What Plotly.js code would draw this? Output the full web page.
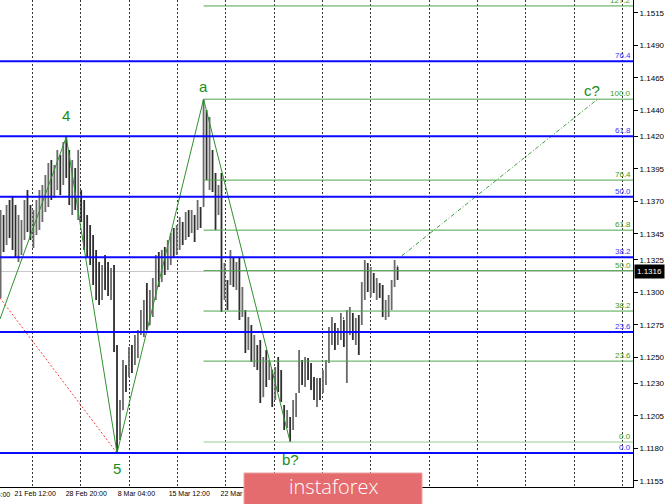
<!DOCTYPE html>
<html><head><meta charset="utf-8">
<script src="https://cdn.plot.ly/plotly-3.0.1.min.js"></script>
<style>html,body{margin:0;padding:0;background:#fff;}#chart{width:665px;height:504px;}</style>
</head><body><div id="chart"></div>
<script>
// ---- price bars (EURUSD) ----
const barHigh = [1.13633,1.13594,1.13671,1.13710,1.13733,1.13671,1.13594,1.13556,1.13710,1.13786,
1.13671,1.13633,1.13710,1.13786,1.13825,1.13902,1.13994,1.14017,1.13979,1.14094,
1.14056,1.14156,1.14194,1.14094,1.14017,1.13956,1.14094,1.13786,1.13710,1.13594,
1.13517,1.13440,1.13325,1.13233,1.13210,1.13286,1.13233,1.13186,1.13210,1.12594,
1.12171,1.12479,1.12440,1.12579,1.12594,1.12671,1.12710,1.12863,1.12940,1.13071,
1.13017,1.13110,1.13286,1.13310,1.13325,1.13348,1.13402,1.13456,1.13494,1.13517,
1.13579,1.13540,1.13617,1.13633,1.13633,1.13594,1.13710,1.13656,1.14485,1.14402,
1.14348,1.14094,1.13917,1.13825,1.13917,1.13225,1.13094,1.13325,1.13271,1.13233,
1.13271,1.13040,1.12863,1.12810,1.12748,1.12671,1.12594,1.12633,1.12502,1.12556,
1.12479,1.12402,1.12425,1.12502,1.12402,1.12133,1.12094,1.12040,1.12171,1.12225,
1.12556,1.12479,1.12502,1.12494,1.12456,1.12348,1.12340,1.12340,1.12402,1.12479,
1.12733,1.12810,1.12763,1.12725,1.12840,1.12786,1.12863,1.12886,1.12840,1.12802,
1.12825,1.13079,1.13248,1.13225,1.13194,1.13148,1.13110,1.13071,1.13056,1.12940,
1.12979,1.13094,1.13248,1.13194];
const barLow = [1.12956,1.13310,1.13363,1.13417,1.13325,1.13263,1.13233,1.13286,1.13402,1.13463,
1.13402,1.13340,1.13440,1.13479,1.13540,1.13617,1.13656,1.13710,1.13725,1.13786,
1.13748,1.13825,1.13879,1.13671,1.13594,1.13633,1.13556,1.13540,1.13325,1.13263,
1.13210,1.13056,1.12940,1.12902,1.12940,1.13017,1.12971,1.12940,1.12540,1.11763,
1.11863,1.12094,1.12233,1.12348,1.12379,1.12440,1.12494,1.12671,1.12656,1.12710,
1.12748,1.12810,1.12940,1.13040,1.13079,1.13133,1.13171,1.13210,1.13271,1.13286,
1.13325,1.13363,1.13402,1.13425,1.13456,1.13386,1.13479,1.13494,1.13656,1.13863,
1.13786,1.13771,1.13479,1.13594,1.12848,1.12940,1.12863,1.13056,1.13040,1.13017,
1.12786,1.12810,1.12533,1.12556,1.12463,1.12425,1.12402,1.12148,1.12194,1.12271,
1.12325,1.12117,1.12171,1.12233,1.12156,1.11940,1.11956,1.11848,1.11940,1.12040,
1.12225,1.12286,1.12271,1.12325,1.12248,1.12171,1.12117,1.12171,1.12225,1.12286,
1.12456,1.12594,1.12556,1.12594,1.12633,1.12579,1.12302,1.12671,1.12633,1.12594,
1.12517,1.12748,1.12940,1.13002,1.12963,1.12994,1.12940,1.12956,1.12810,1.12786,
1.12810,1.12863,1.13040,1.13094];
const barOpen = [1.1300,1.1350,1.1340,1.1360,1.1350,1.1340,1.1330,1.1335,1.1350,1.1365,
1.1355,1.1345,1.1355,1.1365,1.1372,1.1378,1.1385,1.1395,1.1388,1.1395,
1.1405,1.1398,1.1410,1.1395,1.1380,1.1390,1.1375,1.1372,1.1360,1.1340,
1.1330,1.1325,1.1310,1.1300,1.1295,1.1310,1.1305,1.1300,1.1310,1.1256,
1.1190,1.1210,1.1240,1.1236,1.1255,1.1250,1.1262,1.1268,1.1282,1.1290,
1.1275,1.1295,1.1308,1.1325,1.1310,1.1330,1.1320,1.1338,1.1342,1.1335,
1.1350,1.1353,1.1345,1.1360,1.1355,1.1358,1.1350,1.1364,1.1368,1.1430,
1.1395,1.1408,1.1380,1.1365,1.1375,1.1296,1.1305,1.1308,1.1325,1.1310,
1.1320,1.1290,1.1285,1.1258,1.1270,1.1250,1.1258,1.1245,1.1220,1.1240,
1.1234,1.1240,1.1219,1.1235,1.1225,1.1212,1.1198,1.1203,1.1196,1.1212,
1.1224,1.1246,1.1235,1.1245,1.1240,1.1228,1.1220,1.1230,1.1224,1.1238,
1.1247,1.1270,1.1275,1.1262,1.1270,1.1280,1.1265,1.1275,1.1283,1.1270,
1.1278,1.1276,1.1300,1.1318,1.1305,1.1312,1.1302,1.1306,1.1298,1.1285,
1.1292,1.1290,1.1305,1.1320];
const barClose = [1.1350,1.1340,1.1360,1.1350,1.1340,1.1330,1.1335,1.1350,1.1365,1.1355,
1.1345,1.1355,1.1365,1.1372,1.1378,1.1385,1.1395,1.1388,1.1395,1.1405,
1.1398,1.1410,1.1395,1.1380,1.1390,1.1375,1.1385,1.1360,1.1340,1.1330,
1.1325,1.1310,1.1300,1.1295,1.1310,1.1305,1.1300,1.1310,1.1256,1.1190,
1.1210,1.1240,1.1230,1.1255,1.1250,1.1262,1.1268,1.1282,1.1290,1.1275,
1.1295,1.1308,1.1325,1.1310,1.1330,1.1320,1.1338,1.1342,1.1335,1.1350,
1.1355,1.1345,1.1360,1.1355,1.1362,1.1345,1.1368,1.1352,1.1430,1.1395,
1.1420,1.1380,1.1350,1.1375,1.1290,1.1315,1.1290,1.1330,1.1310,1.1320,
1.1285,1.1295,1.1258,1.1270,1.1250,1.1260,1.1245,1.1220,1.1240,1.1230,
1.1240,1.1215,1.1235,1.1225,1.1218,1.1198,1.1205,1.1188,1.1212,1.1220,
1.1250,1.1235,1.1245,1.1240,1.1228,1.1220,1.1230,1.1222,1.1238,1.1245,
1.1270,1.1275,1.1262,1.1270,1.1280,1.1265,1.1275,1.1285,1.1270,1.1278,
1.1260,1.1300,1.1318,1.1305,1.1312,1.1302,1.1308,1.1298,1.1285,1.1292,
1.1295,1.1305,1.1320,1.1316];

// ---- wave markup ----
const waveX = [-0.2, 22, 39, 68, 97];
const waveY = [1.12794, 1.14194, 1.11763, 1.14485, 1.11848];
const waveLabels = ['', '4', '5', 'a', 'b?'];
const trendX = [-0.2, 39];
const trendY = [1.12956, 1.11763];
const projX = [134.4, 200];
const projY = [1.1328, 1.14485];
const projLabel = 'c?';

// ---- fibonacci grids ----
const blueFibLow = 1.11763, blueFibHigh = 1.15707;
const blueRatios = [0, 23.6, 38.2, 50, 61.8, 76.4];
const greenFibLow = 1.11848, greenFibHigh = 1.14485, greenFibStart = 68;
const greenRatios = [0, 23.6, 38.2, 50, 61.8, 76.4, 100, 127.2];
const bidPrice = 1.1316;

// ---- axes ----
const yTicks = [1.1515,1.1490,1.1465,1.1440,1.1420,1.1395,1.1370,1.1345,1.1325,1.1300,1.1275,1.1250,1.1230,1.1205,1.1180,1.1155];
const timeLabels = ['21 Feb 12:00','28 Feb 20:00','8 Mar 04:00','15 Mar 12:00','22 Mar 20:00'];
const timeLabelPos = [11.6, 28.7, 45.5, 63.2, 80.6];
const cutTimeLabel = '14 Feb 04:00';
const gridPos = [10.62, 26.84, 43.02, 59.23, 75.41, 91.63, 107.81, 124.02, 143.52, 159.73, 175.91, 192.1, 208.3];
const xRange = [-0.2, 211.86];
const yRange = [1.11502, 1.15248];

const barIndex = barHigh.map((_, i) => i);
const FONT = 'Liberation Sans, Arial, sans-serif';

const traces = [
  {type:'ohlc', x: barIndex, open: barOpen, high: barHigh, low: barLow, close: barClose,
   increasing:{line:{color:'#6a6a6a', width:1.8}}, decreasing:{line:{color:'#2e2e2e', width:1.8}},
   tickwidth:0.25, hoverinfo:'skip', showlegend:false},
  {type:'scatter', mode:'lines', x: trendX, y: trendY, line:{color:'#ff3b3b', width:1, dash:'2px,2px'}, hoverinfo:'skip', showlegend:false},
  {type:'scatter', mode:'lines', x: waveX, y: waveY, line:{color:'#2f912f', width:1}, hoverinfo:'skip', showlegend:false},
  {type:'scatter', mode:'lines', x: projX, y: projY, line:{color:'#3d9d3d', width:1, dash:'4px,2px,1px,2px'}, hoverinfo:'skip', showlegend:false}
];

const shapes = [];
const annotations = [];
shapes.push({type:'line', xref:'paper', x0:0, x1:1, yref:'y', y0:bidPrice, y1:bidPrice, line:{color:'#c6c6c6', width:1}, layer:'below'});
blueRatios.forEach(r => {
  const v = blueFibLow + (blueFibHigh - blueFibLow) * r / 100;
  shapes.push({type:'line', xref:'paper', x0:0, x1:1, yref:'y', y0:v, y1:v, line:{color:'#0a0aff', width:2}, layer:'above'});
  annotations.push({xref:'paper', x:1, xanchor:'right', xshift:-1, yref:'y', y:v, yanchor:'bottom', yshift:0, text:r.toFixed(1), showarrow:false, font:{family:FONT, size:8, color:'#3535ff'}, borderpad:0});
});
greenRatios.forEach(r => {
  const v = greenFibLow + (greenFibHigh - greenFibLow) * r / 100;
  shapes.push({type:'line', xref:'x', x0:greenFibStart, x1:xRange[1], yref:'y', y0:v, y1:v, line:{color: r === 0 ? '#96cc96' : '#4da64d', width:1}, layer:'above'});
  annotations.push({xref:'paper', x:1, xanchor:'right', xshift:-1, yref:'y', y:v, yanchor:'bottom', yshift:0, text:r.toFixed(1), showarrow:false, font:{family:FONT, size:8, color:'#3f9a22'}, borderpad:0});
});

const labelShift = {'4':22, '5':-15, 'a':13, 'b?':-17};
waveX.forEach((x, i) => {
  if (!waveLabels[i]) return;
  annotations.push({x:x, y:waveY[i], xref:'x', yref:'y', text:waveLabels[i], showarrow:false, yshift:labelShift[waveLabels[i]], font:{family:FONT, size:15, color:'#1a8c1a'}});
});
annotations.push({x:projX[1], y:projY[1], xref:'x', yref:'y', text:projLabel, showarrow:false, xshift:-6, yshift:9, font:{family:FONT, size:15, color:'#1a8c1a'}});

// current price tag
annotations.push({xref:'paper', x:1, xanchor:'left', xshift:1, yref:'y', y:bidPrice, text:bidPrice.toFixed(4), showarrow:false, bgcolor:'#000', borderpad:2, font:{family:FONT, size:8, color:'#fff'}});
// cut-off first time label (only its tail shows at the left edge)
annotations.push({xref:'paper', x:11/633, xanchor:'right', yref:'paper', y:-7/487, yanchor:'middle', text:cutTimeLabel, showarrow:false, borderpad:0, font:{family:FONT, size:7, color:'#000'}});

// watermark banner
shapes.push({type:'rect', xref:'paper', yref:'paper', x0:244/633, x1:422/633, y0:-0.05, y1:14/487, fillcolor:'#e46c6e', line:{color:'#eea2a2', width:1}, layer:'above'});
annotations.push({xref:'paper', yref:'paper', x:333/633, y:1/487, xanchor:'center', yanchor:'middle', text:'instaforex', showarrow:false, font:{family:'Open Sans, sans-serif', size:20, color:'#ffffff', weight:300}});

const layout = {
  width:665, height:504,
  margin:{l:0, r:32, t:0, b:17},
  paper_bgcolor:'#fff', plot_bgcolor:'#fff',
  showlegend:false,
  xaxis:{range:xRange, fixedrange:true, rangeslider:{visible:false},
    tickmode:'array', tickvals:timeLabelPos, ticktext:timeLabels, ticks:'',
    tickfont:{family:FONT, size:7, color:'#000'},
    showgrid:false, zeroline:false, showline:true, linecolor:'#000', linewidth:1,
    minor:{tickmode:'array', tickvals:gridPos, showgrid:true, gridcolor:'#333', griddash:'2px,2px', gridwidth:1, ticks:''}},
  yaxis:{range:yRange, side:'right', fixedrange:true,
    tickmode:'array', tickvals:yTicks, ticktext:yTicks.map(v => v.toFixed(4)),
    ticks:'outside', ticklen:4, tickcolor:'#000', tickfont:{family:FONT, size:8, color:'#000'},
    showgrid:false, zeroline:false, showline:true, linecolor:'#000', linewidth:1},
  shapes:shapes, annotations:annotations
};

Plotly.newPlot('chart', traces, layout, {staticPlot:true, displayModeBar:false});
</script>
</body></html>
